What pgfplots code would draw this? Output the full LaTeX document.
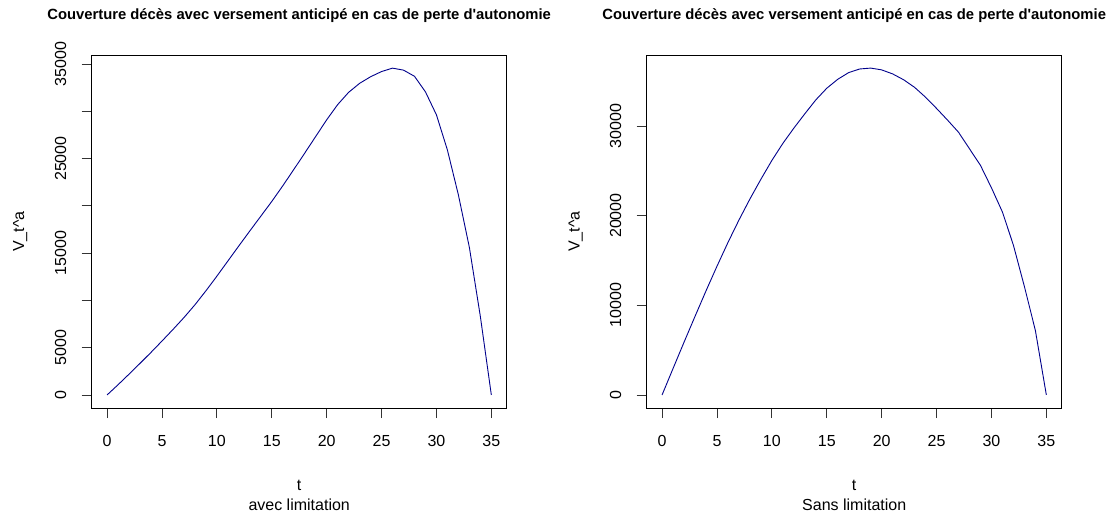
\documentclass[border=0pt]{standalone}
\usepackage{pgfplots}
\pgfplotsset{compat=1.18}
\usepackage{fontspec}
\setmainfont{Liberation Sans}
\definecolor{curve}{RGB}{0,0,139}

\pgfplotstableread{
t V
0 0
1 1080
2 2200
3 3340
4 4500
5 5700
6 6920
7 8180
8 9530
9 11010
10 12560
11 14160
12 15760
13 17340
14 18900
15 20460
16 22110
17 23830
18 25570
19 27330
20 29090
21 30700
22 32000
23 32950
24 33650
25 34200
26 34560
27 34350
28 33700
29 32050
30 29620
31 25900
32 21150
33 15600
34 8300
35 0
}\avec

\pgfplotstableread{
t V
0 0
1 2950
2 5880
3 8760
4 11600
5 14350
6 17000
7 19500
8 21850
9 24050
10 26150
11 28050
12 29750
13 31350
14 32900
15 34200
16 35200
17 35950
18 36350
19 36450
20 36250
21 35800
22 35150
23 34300
24 33200
25 31950
26 30650
27 29300
28 27450
29 25600
30 23100
31 20400
32 16700
33 12100
34 7200
35 0
}\sans

\newcommand{\titre}{Couverture décès avec versement anticipé en cas de perte d\textquotesingle autonomie}

\begin{document}
\begin{tikzpicture}[x=1pt,y=1pt]
\path[use as bounding box] (0,0) rectangle (1107,515);
\pgfplotsset{
 rplot/.style={
  scale only axis, width=415pt, height=353pt,
  anchor=south west,
  xmin=-1.4, xmax=36.4,
  axis line style={line width=0.8pt},
  tick style={line width=0.8pt, black!80},
  tick align=outside, major tick length=10pt,
  xtick={0,5,...,35}, xticklabels={0,5,10,15,20,25,30,35},
  xtick pos=bottom, ytick pos=left,
  minor tick num=0,
  scaled y ticks=false,
  ticklabel style={font=\fontsize{16}{19}\selectfont},
  yticklabel style={rotate=90, anchor=base, yshift=15.5pt},
  xticklabel style={anchor=center, yshift=-23pt},
  /pgf/number format/assume math mode=true,
 }
}
\begin{axis}[rplot, at={(91.7pt,107pt)},
  ymin=-1380, ymax=35950,
  ytick={0,5000,...,35000},
  yticklabels={0,5000,{},15000,{},25000,{},35000}]
\addplot[curve, line width=0.9pt, mark=none] table[x=t,y=V] {\avec};
\end{axis}
\begin{axis}[rplot, at={(646.7pt,107pt)},
  ymin=-1458, ymax=37909,
  ytick={0,10000,20000,30000},
  yticklabels={0,10000,20000,30000}]
\addplot[curve, line width=0.9pt, mark=none] table[x=t,y=V] {\sans};
\end{axis}

\node[anchor=base, font=\bfseries\fontsize{14.8}{17}\selectfont] at (299.2,495.5) {\titre};
\node[anchor=base, font=\bfseries\fontsize{14.8}{17}\selectfont] at (854.2,495.5) {\titre};

\node[anchor=base, font=\fontsize{16}{19}\selectfont] at (299.2,25) {t};
\node[anchor=base, font=\fontsize{16}{19}\selectfont] at (299.2,5) {avec limitation};
\node[anchor=base, font=\fontsize{16}{19}\selectfont] at (854.2,25) {t};
\node[anchor=base, font=\fontsize{16}{19}\selectfont] at (854.2,5) {Sans limitation};

\node[anchor=base, rotate=90, font=\fontsize{16}{19}\selectfont] at (24,283.5) {V\_t\textasciicircum a};
\node[anchor=base, rotate=90, font=\fontsize{16}{19}\selectfont] at (579.7,283.5) {V\_t\textasciicircum a};
\end{tikzpicture}
\end{document}
